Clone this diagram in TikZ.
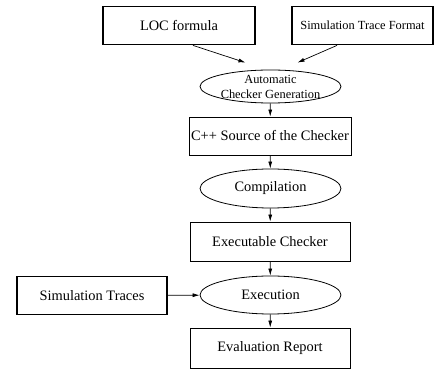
\documentclass[tikz,border=0pt]{standalone}
\usepackage{fontspec}
\setmainfont{Liberation Serif}
\usetikzlibrary{arrows.meta,shapes.geometric}

\tikzset{
	stepbox/.style={draw, rectangle, line width=0.8pt, minimum width=160pt, minimum height=38pt, inner sep=2pt},
	inbox/.style={stepbox, line width=1.8pt},
	action/.style={draw, ellipse, line width=0.8pt, minimum width=141pt, minimum height=38pt, inner sep=0pt, align=center},
	arr/.style={-{Latex[length=7pt,width=4pt]}, line width=0.7pt}
}

\begin{document}
\begin{tikzpicture}[x=1pt,y=1pt]
	\fontsize{14.4}{15}\selectfont
	\useasboundingbox (0,0) rectangle (437,-371);
	% inputs
	\node[inbox, minimum width=152pt] (loc) at (179,-25.5) {LOC formula};
	\node[inbox, minimum width=141pt, font=\fontsize{12.4}{14}\selectfont] (fmt) at (362.5,-25.5) {Simulation Trace Format};
	\node[inbox, minimum width=150pt] (traces) at (92,-295.5) {Simulation Traces};
	% main flow
	\node[action, minimum height=33pt, font=\fontsize{12.4}{15}\selectfont] (gen) at (270.5,-86.5) {Automatic\\Checker Generation};
	\node[stepbox] (src) at (270,-136) {C++ Source of the Checker};
	\node[action, minimum height=39pt] (comp) at (270.5,-188.5) {Compilation};
	\node[stepbox, minimum height=39pt] (exe) at (270,-241.5) {Executable Checker};
	\node[action] (run) at (270.5,-295) {Execution};
	\node[stepbox, minimum height=40pt] (report) at (270,-348) {Evaluation Report};

	\draw[arr] ([xshift=14pt]loc.south) -- ([xshift=-25pt,yshift=7pt]gen.north);
	\draw[arr] ([xshift=-25.5pt]fmt.south) -- ([xshift=27pt,yshift=7pt]gen.north);
	\draw[arr] (gen) -- (src);
	\draw[arr] (src) -- (comp);
	\draw[arr] (comp) -- (exe);
	\draw[arr] (exe) -- (run);
	\draw[arr] (run) -- (report);
	\draw[arr] (traces) -- (run);
\end{tikzpicture}
\end{document}
